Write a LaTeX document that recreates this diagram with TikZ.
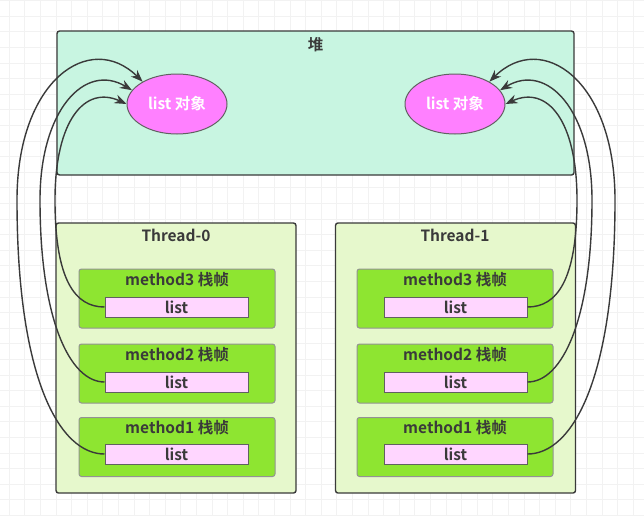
\documentclass[tikz,border=0pt]{standalone}
\usepackage{fontspec}
\setmainfont{Noto Sans CJK SC}[BoldFont={* Bold}]
\newfontfamily\cjkb{Noto Sans CJK SC Bold}
\usetikzlibrary{shapes.geometric,arrows.meta}
\definecolor{heapfill}{HTML}{C8F5E1}
\definecolor{thfill}{HTML}{E6F8CC}
\definecolor{mfill}{HTML}{8EE531}
\definecolor{lfill}{HTML}{FFD6FF}
\definecolor{efill}{HTML}{FF80FF}
\definecolor{edge}{HTML}{3A3A3A}
\definecolor{gridc}{HTML}{F2F2F2}
\tikzset{
  box/.style={draw=edge,line width=1.4pt,rounded corners=2.5pt,inner sep=0pt},
  heapbox/.style={box,fill=heapfill,minimum width=517pt,minimum height=144pt},
  thbox/.style={box,fill=thfill,minimum width=240pt,minimum height=270pt},
  mbox/.style={box,fill=mfill,draw=edge!55,line width=1pt,minimum width=196pt,minimum height=59pt},
  lbox/.style={draw=edge!80,line width=1pt,fill=lfill,minimum width=143pt,minimum height=20pt,inner sep=0pt,
     font=\cjkb\fontsize{15.5}{15.5}\selectfont,text=edge},
  obj/.style={ellipse,draw=edge!80,line width=1pt,fill=efill,minimum width=100pt,minimum height=60pt,inner sep=0pt,
     font=\cjkb\fontsize{15.5}{15.5}\selectfont,text=white},
  lbl/.style={font=\cjkb\fontsize{15.5}{15.5}\selectfont,text=edge,inner sep=0pt},
  ref/.style={draw=edge,line width=1.4pt,-{Stealth[length=12pt,width=9pt]}},
}
\begin{document}
\begin{tikzpicture}[x=1pt,y=-1pt]
\useasboundingbox (0,0) rectangle (644,515);
\fill[white] (0,0) rectangle (644,515);
\foreach \i in {0,...,41} \draw[gridc,line width=0.6pt] (9+15.6*\i,0) -- (9+15.6*\i,515);
\foreach \j in {0,...,33} \draw[gridc,line width=0.6pt] (0,0.5+15.6*\j) -- (644,0.5+15.6*\j);

% heap
\node[heapbox] (heap) at (315.5,103) {};
\node[lbl] (heapt) at (315.5,45) {堆};
\node[obj] (e0) at (177,104) {list 对象};
\node[obj] (e1) at (455,104) {list 对象};

% threads
\node[thbox] (t0) at (176,358) {};
\node[lbl] (t0t) at (176,235) {Thread-0};
\node[thbox] (t1) at (455.5,358) {};
\node[lbl] (t1t) at (455,235) {Thread-1};

% thread-0 frames
\node[mbox] (a3) at (177,298.5) {};
\node[lbl] (a3t) at (177,280) {method3 栈帧};
\node[lbox] (la3) at (176.5,307) {list};
\node[mbox] (a2) at (177,373.5) {};
\node[lbl] (a2t) at (177,355) {method2 栈帧};
\node[lbox] (la2) at (176.5,382) {list};
\node[mbox] (a1) at (177,447) {};
\node[lbl] (a1t) at (177,428) {method1 栈帧};
\node[lbox] (la1) at (176.5,454) {list};

% thread-1 frames
\node[mbox] (b3) at (455,298.5) {};
\node[lbl] (b3t) at (455,280) {method3 栈帧};
\node[lbox] (lb3) at (455.5,307) {list};
\node[mbox] (b2) at (455,373.5) {};
\node[lbl] (b2t) at (455,355) {method2 栈帧};
\node[lbox] (lb2) at (455.5,382) {list};
\node[mbox] (b1) at (455,447) {};
\node[lbl] (b1t) at (455,428) {method1 栈帧};
\node[lbox] (lb1) at (455.5,454) {list};

% left references
\draw[ref] (la3.west) .. controls (75,307) and (55,280) .. (55,200)
   .. controls (55,120) and (85,85) .. (e0.west);
\draw[ref] (la2.west) .. controls (70,382) and (40,320) .. (40,200)
   .. controls (40,110) and (85,62) .. (e0.163);
\draw[ref] (la1.west) .. controls (60,454) and (17,380) .. (17,200)
   .. controls (17,80) and (90,30) .. (e0.147);

% right references
\draw[ref] (lb3.east) .. controls (557,307) and (577,280) .. (577,200)
   .. controls (577,120) and (547,85) .. (e1.east);
\draw[ref] (lb2.east) .. controls (562,382) and (592,320) .. (592,200)
   .. controls (592,110) and (547,62) .. (e1.17);
\draw[ref] (lb1.east) .. controls (572,454) and (615,380) .. (615,200)
   .. controls (615,80) and (542,30) .. (e1.33);
\end{tikzpicture}
\end{document}
